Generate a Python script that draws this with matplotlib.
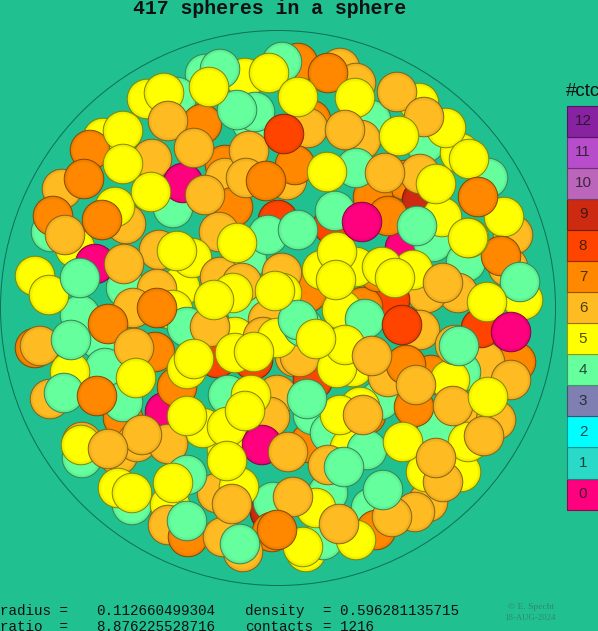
import matplotlib
matplotlib.use("Agg")
import matplotlib.pyplot as plt
from matplotlib.patches import Circle, Rectangle
from matplotlib.colors import to_rgb

title = "417 spheres in a sphere"
contact_labels = list(range(13))
contact_colors = ["#ff007f", "#2ad9c8", "#00ffff", "#7f7fb2", "#66ff9e", "#ffff00", "#ffbb22",
                  "#ff8800", "#ff4400", "#cc2a11", "#bb66bb", "#b84dcc", "#8822a0"]

spheres_back = [
 (205,74,4),(245,78,5),(298,63,7),(282,62,4),(177,97,4),(103,138,5),(340,68,6),(356,83,6),(419,103,5),
 (252,123,4),(255,112,4),(202,124,7),(361,123,7),(371,120,4),(311,120,7),(308,128,6),(361,140,6),(425,143,4),
 (460,153,5),(488,178,4),(225,165,7),(225,178,6),(405,180,7),(373,197,7),(422,200,9),(287,180,6),(233,207,7),
 (513,235,6),(51,232,4),(75,248,5),(173,208,4),(126,288,4),(405,248,0),(433,242,4),(333,225,8),(278,220,8),
 (508,267,6),(466,262,4),(523,300,5),(458,293,6),(427,293,6),(390,300,8),(363,307,7),(378,272,7),(356,267,5),
 (35,348,7),(100,340,4),(155,352,7),(82,442,6),(82,458,4),(217,358,8),(253,360,8),(123,418,7),(165,412,0),
 (295,357,6),(516,362,7),(485,362,6),(431,375,7),(461,372,4),(461,418,6),(496,420,6),(437,430,4),(366,415,7),
 (310,443,7),(118,455,6),(137,442,6),(132,505,4),(170,505,5),(217,493,6),(270,512,9),(273,502,4),(272,532,7),
 (243,552,6),(306,552,5),(323,540,4),(371,508,4),(376,530,7),(428,502,6),(461,472,5),(328,493,4),
 (168,525,6),(188,537,7),(223,537,6),(316,508,5),(313,380,8),(300,290,7),(307,293,7),(253,310,4),(163,308,7),
 (247,260,4),(180,287,5),(247,310,4),(380,400,4),(177,387,7),(227,450,5),(300,357,6),
]
spheres_mid = [
 (220,69,4),(147,99,5),(164,93,5),(397,92,6),(446,128,5),(328,73,7),(237,110,4),(90,150,7),(152,159,6),(249,151,6),
 (62,189,6),(183,183,0),(246,178,6),(295,165,7),(356,168,4),(420,174,6),(469,159,5),(53,216,7),(126,224,6),(115,207,5),
 (219,232,6),(268,235,4),(335,211,4),(388,216,7),(442,217,5),(504,217,5),(417,226,4),(501,256,7),(469,238,5),
 (95,264,0),(159,250,6),(192,258,5),(220,277,6),(242,283,6),(282,273,6),(157,289,6),
 (233,293,5),(282,293,5),(322,270,5),(337,252,5),(413,270,5),(382,267,5),(520,282,4),(443,283,6),(133,308,6),(173,310,5),
 (187,327,4),(80,315,4),(235,337,5),(210,327,6),(268,320,6),(263,337,6),(277,338,5),(303,327,4),(342,310,5),(365,319,4),(420,330,6),(481,328,8),
 (40,346,6),(105,368,4),(70,372,5),(50,399,6),(187,369,5),(235,353,5),(123,402,4),(228,395,4),(277,395,6),
 (270,417,6),(353,367,5),(337,368,5),(345,345,5),(388,377,6),(406,365,7),(450,380,5),(455,345,6),(298,320,4),(203,428,5),(227,427,5),
 (251,395,5),(168,444,6),(313,415,4),(360,407,5),(330,433,4),(414,407,7),(262,445,0),(350,448,5),(340,415,5),(367,450,4),
 (328,465,6),(187,475,4),(239,487,5),(468,442,5),(484,436,6),(511,380,6),(118,488,5),(426,472,5),(415,512,6),(443,482,6),
 (356,540,5),(303,547,5),(81,445,5),(293,497,6),
]
spheres_front = [
 (269,73,5),(209,87,5),(355,98,5),(298,97,5),(424,117,6),(168,121,6),(284,134,8),(123,131,5),(345,130,6),(399,136,5),
 (194,148,6),(123,164,5),(84,179,7),(151,192,5),(205,195,6),(266,181,7),(327,172,5),(385,173,6),(436,184,5),(478,197,7),
 (65,235,6),(102,220,7),(237,243,5),(298,230,4),(362,222,0),(35,276,5),(49,295,5),(80,278,4),(124,264,6),(177,251,5),
 (468,238,5),(108,324,7),(157,308,7),(214,300,5),(275,291,5),(336,280,5),(395,278,5),(487,302,5),(511,332,0),(71,340,4),
 (134,348,6),(402,325,8),(316,339,5),(136,378,5),(64,393,4),(97,396,7),(194,359,5),(254,352,5),(372,356,6),(459,346,4),
 (416,385,6),(453,406,6),(488,397,5),(245,411,5),(187,416,5),(307,399,4),(363,415,6),(142,435,6),
 (108,449,6),(288,452,6),(227,461,5),(403,442,5),(436,458,6),(344,467,4),(173,483,5),(132,493,5),(232,504,6),
 (392,517,6),(383,490,4),(339,524,6),(187,521,4),(277,530,7),(240,544,4),
]

big_center_x, big_center_y, big_radius = 278, 308, 277.5
sphere_radius = 19.8
stats = [("radius =", "0.112660499304", "density", "= 0.596281135715"),
         ("ratio  =", "8.876225528716", "contacts", "= 1216")]

fig = plt.figure(figsize=(5.98, 6.31), dpi=100, facecolor="#20c090")
ax = fig.add_axes([0, 0, 1, 1])
ax.set_xlim(0, 598)
ax.set_ylim(631, 0)
ax.axis("off")

ax.add_patch(Circle((big_center_x, big_center_y), big_radius, fc="none", ec="#0e6e56", lw=0.7))

def shade(col, f):
    return tuple(c * f for c in to_rgb(col))

z = 2
for x, y, c in spheres_back + spheres_mid + spheres_front:
    col = contact_colors[c]
    ax.add_patch(Circle((x, y), sphere_radius, fc=shade(col, 0.9), ec=shade(col, 0.5), lw=0.65, zorder=z))
    ax.add_patch(Circle((x, y), sphere_radius * 0.94, fc=shade(col, 0.95), ec="none", zorder=z + 0.3))
    ax.add_patch(Circle((x, y), sphere_radius * 0.85, fc=shade(col, 1.0), ec="none", zorder=z + 0.6))
    z += 1

cell_h = 31.07
bar_top = 105.7
for lab in contact_labels:
    top = bar_top + (12 - lab) * cell_h
    col = contact_colors[lab]
    ax.add_patch(Rectangle((567, top), 40, cell_h, fc=col, ec=shade(col, 0.6), lw=0.8, zorder=z))
    ax.text(583, top + cell_h / 2, str(lab), ha="center", va="center", fontsize=11,
            family="Liberation Sans", color="#111111", alpha=0.75, zorder=z + 1)
ax.text(566, 91, "#ctc", ha="left", va="center", fontsize=13.5, family="Liberation Sans",
        color="#111111", zorder=z + 1)

ax.text(270, 8, title, ha="center", va="center", fontsize=14.3, family="Liberation Mono",
        weight="bold", color="#111111", zorder=z + 1)

mono = dict(family="Liberation Mono", fontsize=10.3, color="#111111", va="baseline", zorder=z + 1)
for yy, (a, b, c2, d) in zip((615, 631), stats):
    ax.text(0, yy, a, ha="left", **mono)
    ax.text(96, yy, b, ha="left", **mono)
    ax.text(245, yy, c2, ha="left", **mono)
    ax.text(323, yy, d, ha="left", **mono)

ax.text(531, 607, "© E. Specht", ha="center", va="center", fontsize=6.8, family="Liberation Serif", color="#2f8a6e", zorder=z + 1)
ax.text(530, 618, "18-AUG-2024", ha="center", va="center", fontsize=6.3, family="Liberation Serif", color="#2f8a6e", zorder=z + 1)

fig.savefig("out.png", dpi=100, facecolor=fig.get_facecolor())
